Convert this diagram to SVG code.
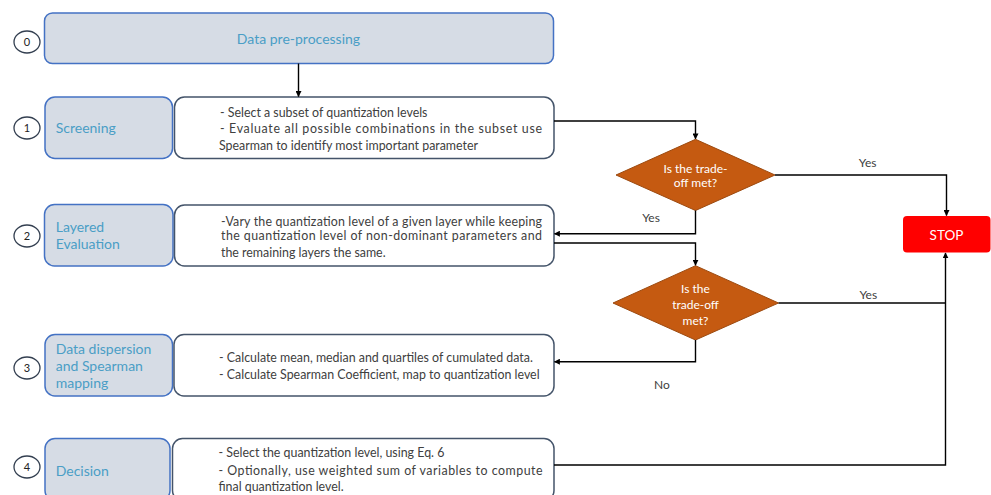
<svg xmlns="http://www.w3.org/2000/svg" width="991" height="495" viewBox="0 0 991 495">
<style>
text{font-family:Lato,"Liberation Sans",sans-serif}
.step{fill:#d6dce5;stroke:#4472c4;stroke-width:1.5}
.desc{fill:#ffffff;stroke:#44546a;stroke-width:1.5}
.num{fill:#ffffff;stroke:#333f50;stroke-width:1.3}
.numt{font-size:11px;fill:#222;text-anchor:middle}
.lbl{font-size:14px;fill:#4a9ec6}
.body{font-size:12.4px;fill:#404040}
.dia{fill:#c55a11;stroke:#9c4a10;stroke-width:1}
.diat{font-size:12px;fill:#ffffff;text-anchor:middle}
.ans{font-size:12px;fill:#404040;text-anchor:middle}
.con{fill:none;stroke:#000;stroke-width:1.4}
</style>
<defs>
<marker id="arr" viewBox="0 0 10 10" refX="9" refY="5" markerWidth="6" markerHeight="6" markerUnits="userSpaceOnUse" orient="auto">
<path d="M0,0 L10,5 L0,10 Z" fill="#000"/>
</marker>
</defs>

<g id="step0">
<ellipse class="num" cx="27" cy="42" rx="13" ry="11"/>
<text class="numt" x="27" y="46">0</text>
<rect class="step" x="44.5" y="13" width="509" height="50.5" rx="8"/>
<text class="lbl" x="298.5" y="44" text-anchor="middle">Data pre-processing</text>
</g>

<g id="step1">
<ellipse class="num" cx="27" cy="128" rx="13" ry="11"/>
<text class="numt" x="27" y="132">1</text>
<rect class="step" x="45" y="97" width="127.5" height="61.5" rx="10"/>
<text class="lbl" x="55.7" y="133">Screening</text>
<rect class="desc" x="174.5" y="97" width="379.5" height="61.5" rx="10"/>
<text class="body" x="220" y="117.3">- Select a subset of quantization levels</text>
<text class="body" x="220" y="132.5" textLength="322" lengthAdjust="spacing">- Evaluate all possible combinations in the subset use</text>
<text class="body" x="219" y="149.5">Spearman to identify most important parameter</text>
</g>

<g id="step2">
<ellipse class="num" cx="27" cy="236" rx="13" ry="11"/>
<text class="numt" x="27" y="240">2</text>
<rect class="step" x="44.5" y="204.5" width="128.5" height="61.5" rx="10"/>
<text class="lbl" x="55.7" y="232">Layered</text>
<text class="lbl" x="55.7" y="249">Evaluation</text>
<rect class="desc" x="174.5" y="205" width="379.5" height="61" rx="10"/>
<text class="body" x="221" y="225.5" textLength="321" lengthAdjust="spacing">-Vary the quantization level of a given layer while keeping</text>
<text class="body" x="221" y="240.2" textLength="321" lengthAdjust="spacing">the quantization level of non-dominant parameters and</text>
<text class="body" x="221" y="256.5">the remaining layers the same.</text>
</g>

<g id="step3">
<ellipse class="num" cx="27" cy="368" rx="13" ry="11"/>
<text class="numt" x="27" y="372">3</text>
<rect class="step" x="45" y="334.5" width="127.5" height="61.5" rx="10"/>
<text class="lbl" x="55.7" y="354">Data dispersion</text>
<text class="lbl" x="55.7" y="371.2">and Spearman</text>
<text class="lbl" x="55.7" y="388.3">mapping</text>
<rect class="desc" x="174" y="334.5" width="380" height="61.5" rx="10"/>
<text class="body" x="219" y="362">- Calculate mean, median and quartiles of cumulated data.</text>
<text class="body" x="219" y="379">- Calculate Spearman Coefficient, map to quantization level</text>
</g>

<g id="step4">
<ellipse class="num" cx="27" cy="467" rx="13" ry="11"/>
<text class="numt" x="27" y="471">4</text>
<rect class="step" x="45" y="438.5" width="125" height="62" rx="10"/>
<text class="lbl" x="55.7" y="475.5">Decision</text>
<rect class="desc" x="172.5" y="438.5" width="381.5" height="62" rx="10"/>
<text class="body" x="218.5" y="456.7">- Select the quantization level, using Eq. 6</text>
<text class="body" x="218.5" y="474.7" textLength="324" lengthAdjust="spacing">- Optionally, use weighted sum of variables to compute</text>
<text class="body" x="218.5" y="490.7">final quantization level.</text>
</g>

<g id="decision1">
<polygon class="dia" points="695.5,139.3 775,175 695.5,210.5 616,175"/>
<text class="diat" x="695.5" y="172.5">Is the trade-</text>
<text class="diat" x="695.5" y="187">off met?</text>
</g>

<g id="decision2">
<polygon class="dia" points="695.5,265.7 778.5,303 695.5,340 613,303"/>
<text class="diat" x="695.5" y="293">Is the</text>
<text class="diat" x="695.5" y="308.5">trade-off</text>
<text class="diat" x="695.5" y="325">met?</text>
</g>

<g id="stop">
<rect x="903" y="216" width="87.5" height="36.5" rx="4" fill="#ff0000"/>
<text x="946.5" y="239.5" font-size="13.5" fill="#ffffff" text-anchor="middle">STOP</text>
</g>

<g id="connectors">
<path class="con" d="M298.5,63.5 V96.5" marker-end="url(#arr)"/>
<path class="con" d="M554,121 H695.5 V138.8" marker-end="url(#arr)"/>
<path class="con" d="M775,175 H946.5 V215.5" marker-end="url(#arr)"/>
<path class="con" d="M695.5,210.5 V233.7 H554.5" marker-end="url(#arr)"/>
<path class="con" d="M554,243 H695.5 V265.2" marker-end="url(#arr)"/>
<path class="con" d="M778.5,303 H945.5"/>
<path class="con" d="M695.5,340 V361.7 H554.5" marker-end="url(#arr)"/>
<path class="con" d="M554,465 H945.5 V253" marker-end="url(#arr)"/>
<text class="ans" x="867.7" y="167">Yes</text>
<text class="ans" x="651" y="222">Yes</text>
<text class="ans" x="868.3" y="298.6">Yes</text>
<text class="ans" x="662" y="389.3">No</text>
</g>
</svg>
